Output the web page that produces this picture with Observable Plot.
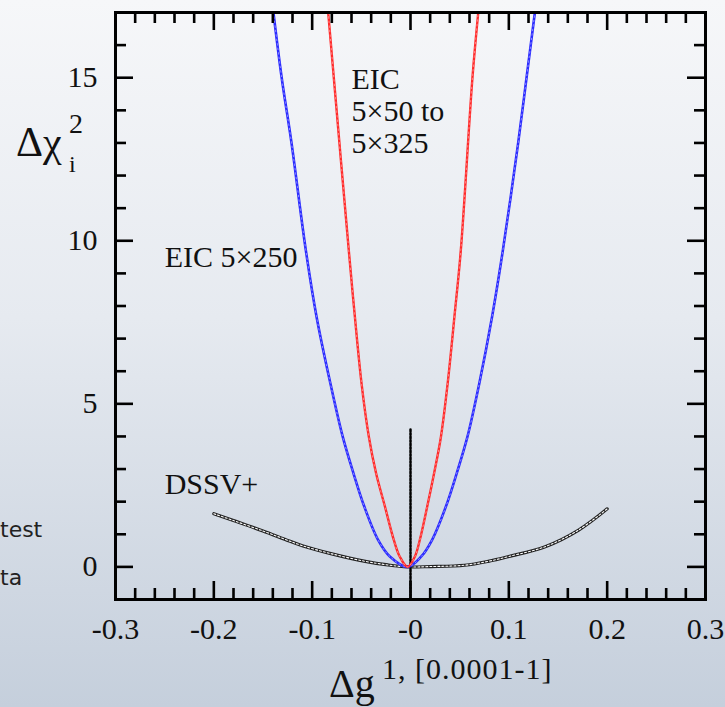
<!DOCTYPE html>
<html><head><meta charset="utf-8">
<script src="https://cdn.jsdelivr.net/npm/d3@7"></script>
<script src="https://cdn.jsdelivr.net/npm/@observablehq/plot@0.6"></script>
<style>
html,body{margin:0;padding:0;}
body{width:725px;height:707px;overflow:hidden;background:linear-gradient(180deg,#f6f7f9 0%,#e6eaf0 45%,#c5cfdc 100%);position:relative;}
#chart{position:absolute;left:0;top:0;}
</style></head><body>
<div id="chart"></div>
<script>
// ---- data ----
const xMajor = [-0.3, -0.2, -0.1, 0, 0.1, 0.2, 0.3];
const xMinor = [-0.28,-0.26,-0.24,-0.22,-0.18,-0.16,-0.14,-0.12,-0.08,-0.06,-0.04,-0.02,
                0.02,0.04,0.06,0.08,0.12,0.14,0.16,0.18,0.22,0.24,0.26,0.28];
const yMajor = [0, 5, 10, 15];
const yMinor = [1,2,3,4,6,7,8,9,11,12,13,14,16];

// EIC 5x50 to 5x325 (red)
const eicRangeX = [-0.0837,-0.078,-0.0628,-0.0566,-0.0498,-0.0424,-0.035,-0.026,-0.017,-0.011,-0.003,
                   0.0045,0.0095,0.017,0.024,0.031,0.0378,0.0447,0.0512,0.063,0.0689];
const eicRangeY = [17,15,9.72,7.68,5.63,4.0,2.87,1.85,0.83,0.32,0,
                   0.32,0.83,1.85,2.87,4.0,5.63,7.68,9.72,15,17];
// EIC 5x250 (blue)
const eic250X = [-0.1394,-0.131,-0.121,-0.1065,-0.0956,-0.0815,-0.069,-0.058,-0.047,-0.033,-0.021,-0.003,
                 0.011,0.022,0.036,0.047,0.058,0.070,0.083,0.094,0.1095,0.118,0.1265];
const eic250Y = [17,15,13,9.72,7.68,5.63,4.0,2.87,1.85,0.83,0.32,0,
                 0.32,0.83,1.85,2.87,4.0,5.63,7.68,9.72,13,15,17];
// DSSV+ (black)
const dssvX = [-0.2,-0.18,-0.15,-0.128,-0.11,-0.08,-0.046,-0.023,-0.003,0.02,0.055,0.079,0.1,0.137,0.171,0.2];
const dssvY = [1.63,1.42,1.1,0.85,0.65,0.4,0.17,0.06,0,0.01,0.05,0.17,0.32,0.62,1.13,1.78];
// vertical marker at zero
const markerX = [0];
const markerY = [-1, 4.25];

const zip = (xs, ys) => xs.map((x, i) => ({x, y: ys[i]}));
const red = zip(eicRangeX, eicRangeY);
const blue = zip(eic250X, eic250Y);
const dssv = zip(dssvX, dssvY);
const marker = markerY.map(y => ({x: markerX[0], y}));

// ---- layout ----
const W = 725, H = 707, mL = 115, mR = 20, mT = 12, mB = 108;
const innerH = H - mT - mB, innerW = W - mL - mR;
const majLen = 18, minLen = 11, tw = 2.6;
const fmt = d => d === 0 ? "-0" : d.toFixed(1);
const serif = "'Liberation Serif','Times New Roman',serif";
const fs = 30;
const crv = "catmull-rom";

const plot = Plot.plot({
  width: W, height: H, marginLeft: mL, marginRight: mR, marginTop: mT, marginBottom: mB,
  style: {background: "transparent", fontFamily: serif, fontSize: fs + "px", color: "#111", overflow: "visible"},
  x: {domain: [-0.3, 0.3]},
  y: {domain: [-1, 17]},
  marks: [
    // DSSV+
    Plot.line(dssv, {x: "x", y: "y", stroke: "#222", strokeWidth: 3.2, curve: crv, clip: true}),
    Plot.line(dssv, {x: "x", y: "y", stroke: "#fff", strokeWidth: 1.1, strokeDasharray: "2,2", curve: crv, clip: true}),
    // vertical marker
    Plot.line(marker, {x: "x", y: "y", stroke: "#000", strokeWidth: 2.5, strokeDasharray: "2,1.5", clip: true}),
    // EIC 5x250
    Plot.line(blue, {x: "x", y: "y", stroke: "#2a2aff", strokeWidth: 2.6, curve: crv, clip: true}),
    Plot.line(blue, {x: "x", y: "y", stroke: "#fff", strokeOpacity: 0.6, strokeWidth: 0.8, strokeDasharray: "1.5,3", curve: crv, clip: true}),
    // EIC range
    Plot.line(red, {x: "x", y: "y", stroke: "#ff2a2a", strokeWidth: 2.4, curve: crv, clip: true}),
    Plot.line(red, {x: "x", y: "y", stroke: "#fff", strokeOpacity: 0.55, strokeWidth: 0.8, strokeDasharray: "1.5,3", curve: crv, clip: true}),
    // inward ticks, all four sides
    Plot.ruleX(xMajor, {insetTop: innerH - majLen, stroke: "#000", strokeWidth: tw}),
    Plot.ruleX(xMinor, {insetTop: innerH - minLen, stroke: "#000", strokeWidth: tw}),
    Plot.ruleX(xMajor, {insetBottom: innerH - majLen, stroke: "#000", strokeWidth: tw}),
    Plot.ruleX(xMinor, {insetBottom: innerH - minLen, stroke: "#000", strokeWidth: tw}),
    Plot.ruleY(yMajor, {insetRight: innerW - majLen, stroke: "#000", strokeWidth: tw}),
    Plot.ruleY(yMinor, {insetRight: innerW - minLen, stroke: "#000", strokeWidth: tw}),
    Plot.ruleY(yMajor, {insetLeft: innerW - majLen, stroke: "#000", strokeWidth: tw}),
    Plot.ruleY(yMinor, {insetLeft: innerW - minLen, stroke: "#000", strokeWidth: tw}),
    // tick labels
    Plot.axisX({ticks: xMajor, tickSize: 0, tickPadding: 18, tickFormat: fmt, label: null, fontSize: fs, fontFamily: serif}),
    Plot.axisY({ticks: yMajor, tickSize: 0, tickPadding: 18, tickFormat: d => String(d), label: null, fontSize: fs, fontFamily: serif}),
    // curve labels
    Plot.text(["EIC 5×250"], {x: -0.25, y: 9.48, textAnchor: "start", fontSize: fs, fontFamily: serif, fill: "#111"}),
    Plot.text(["DSSV+"], {x: -0.25, y: 2.52, textAnchor: "start", fontSize: fs, fontFamily: serif, fill: "#111"}),
    Plot.text(["EIC\n5×50 to\n5×325"], {x: -0.06, y: 14, textAnchor: "start", lineAnchor: "middle", lineHeight: 1.07, fontSize: fs, fontFamily: serif, fill: "#111"}),
    Plot.frame({stroke: "#000", strokeWidth: 3})
  ]
});
document.getElementById("chart").appendChild(plot);

// axis titles and slide fragments as real SVG text
const svg = d3.select(plot);
const addText = (x, y, size, str, family = serif, fill = "#111", spacing = 0) =>
  svg.append("text").attr("text-anchor", "start").attr("font-family", family).attr("fill", fill)
     .attr("letter-spacing", spacing).attr("x", x).attr("y", y).attr("font-size", size).text(str);
addText(16, 156, 42, "Δχ");
addText(69, 133, 28, "2");
addText(69, 172, 24, "i");
addText(329, 697, 40, "Δg");
addText(382, 679, 30, "1, [0.0001-1]", serif, "#111", 1);
addText(0, 537, 22, "test", "'DejaVu Sans',sans-serif", "#222");
addText(0, 585, 22, "ta", "'DejaVu Sans',sans-serif", "#222");
</script>
</body></html>
